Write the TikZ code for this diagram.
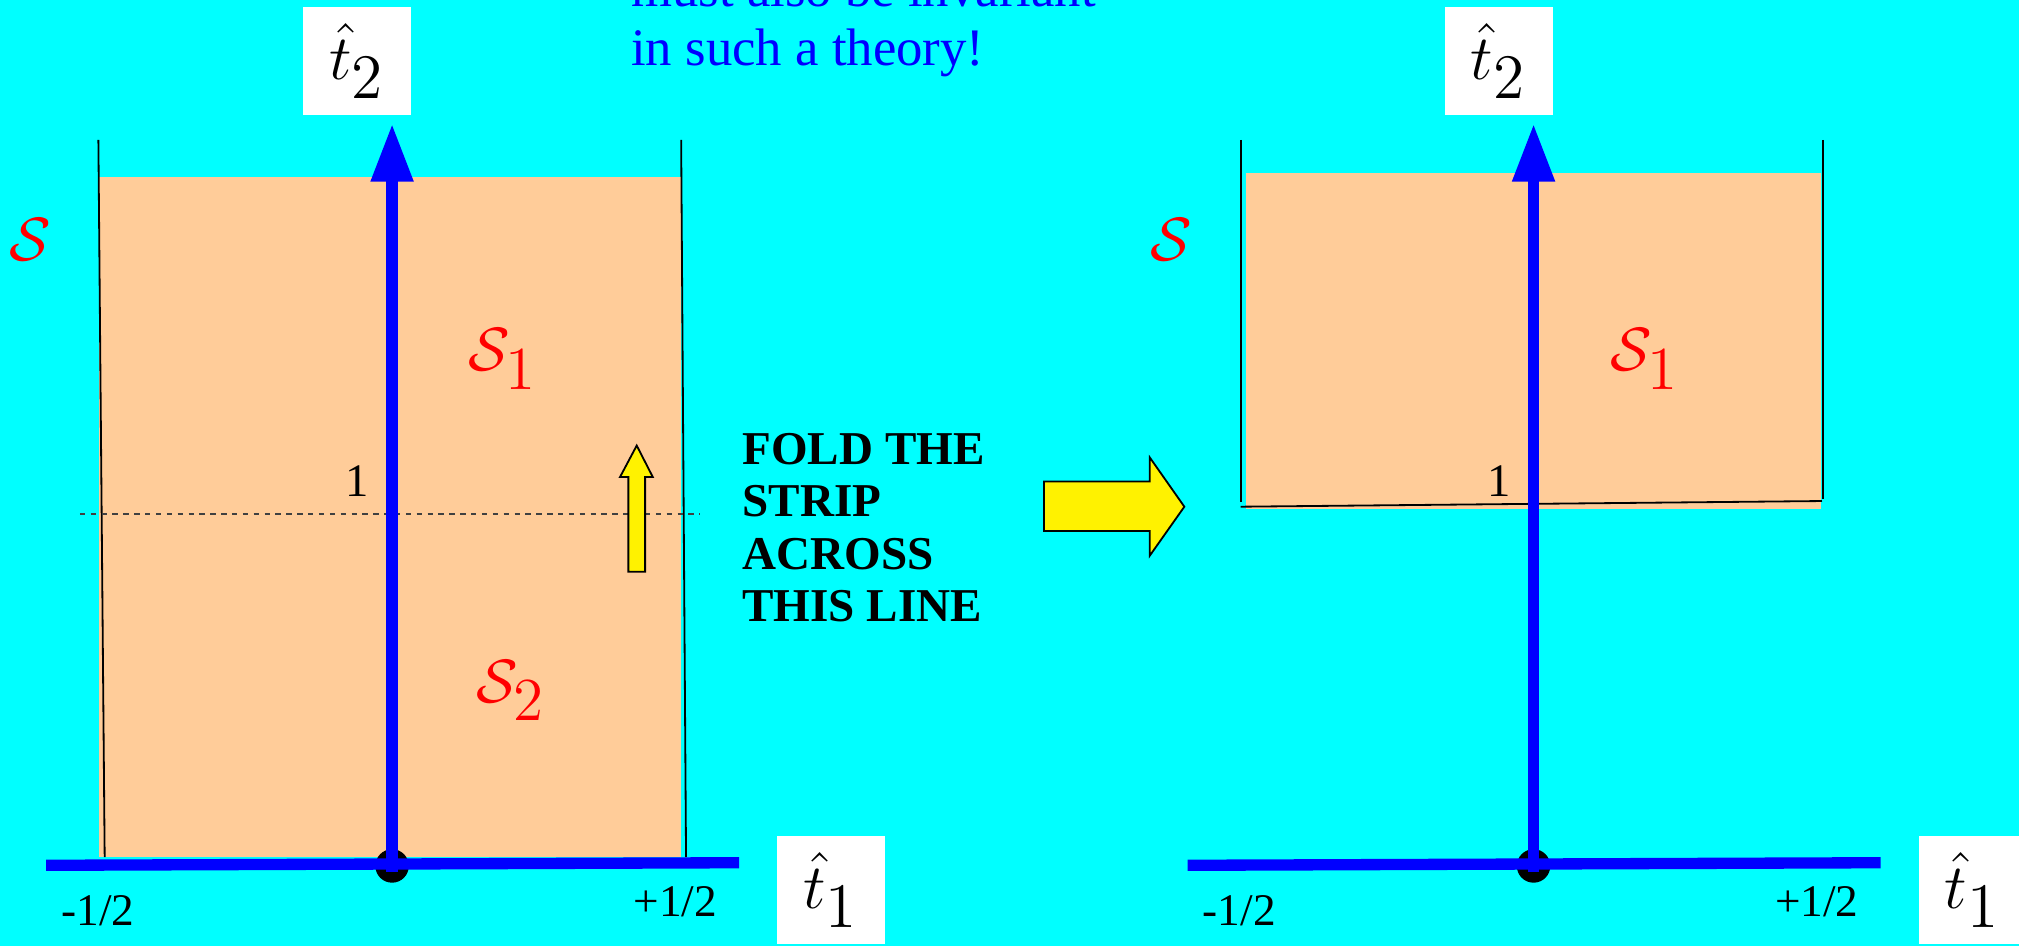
\documentclass[tikz,border=0pt]{standalone}
\usepackage{fix-cm}
\usepackage{fontspec}
\setmainfont{Liberation Serif}
\usepackage{tikz}
\usetikzlibrary{arrows.meta,positioning}
\definecolor{bgcyan}{HTML}{00FFFF}
\definecolor{strip}{HTML}{FFCC99}
\tikzset{
 axis/.style={blue,line width=2.5pt},
 edge/.style={line width=0.4pt},
 hatbox/.style={fill=white,minimum width=0.84cm,minimum height=0.84cm,inner sep=0pt,font=\fontsize{14}{16}\selectfont},
 region/.style={red,font=\fontsize{13.5}{15}\selectfont},
 tick/.style={font=\fontsize{10}{11}\selectfont},
 fatarrow/.style={fill=yellow,draw=black,line width=0.4pt},
}

\begin{document}
\begin{tikzpicture}[x=0.01cm,y=-0.01cm,>={Triangle[length=0.45cm,width=0.31cm]}]
\fill[bgcyan] (0,0) rectangle (1568,735);
\useasboundingbox (0,0) rectangle (1568,735);
\fill[strip] (77,137.5) rectangle (529,665.7);
\fill[strip] (967.7,134) rectangle (1413.9,395.5);
\draw[edge] (76.4,108.7) -- (81.3,665.7);
\draw[edge] (529,108.7) -- (532.8,665.7);
\draw[edge] (963.5,108.7) -- (963.5,389.6);
\draw[edge] (1415.7,108.7) -- (1415.7,387.6);
\draw[edge] (963.5,393.5) -- (1415,389.1);
\draw[edge,black!75,dash pattern=on 1.2pt off 1.2pt] (62,399) -- (544,399);
\foreach \dx/\p in {0/L,886.5/R}
 {\begin{scope}[shift={(\dx,0)}]
  \coordinate (O\p) at (304.5,672.5);
  \coordinate (foot\p) at (304.5,677);
  \coordinate (top\p) at (304.5,96);
  \coordinate (xl\p) at (35.8,672);
  \coordinate (xr\p) at (574,670);
  \fill (O\p) circle[radius=0.13cm];
  \draw[axis,->] (foot\p) -- (top\p);
  \draw[axis] (xl\p) -- (xr\p);
  \node[hatbox] (t2\p) at (277.5,47.5) {$\hat{t}_{\textstyle 2}$};
  \node[hatbox,anchor=north] (t1\p) at (645.5,648.5) {$\hat{t}_{\textstyle 1}$};
  \node[tick] (m\p) at (76,707) {-1/2};
  \node[tick] (p\p) at (524.5,700) {+1/2};
  \node[region] (S\p) at (23.5,186) {$\mathcal{S}$};
  \node[region] (Sa\p) at (391,279) {$\mathcal{S}_{\textstyle 1}$};
  \node[font=\fontsize{10.3}{11}\selectfont] (one\p) at (277.7,374) {1};
 \end{scope}}
\node[region] (SbL) at (397,536.5) {$\mathcal{S}_{\textstyle 2}$};
\draw[fatarrow] (488,444) -- (488,370.5) -- (481.5,370.5) -- (494.5,346) -- (507,370.5) -- (501,370.5) -- (501,444) -- cycle;
\draw[fatarrow] (810.8,374) -- (892.9,374) -- (892.9,355.2) -- (919.8,393.5) -- (892.9,431.6) -- (892.9,412.4) -- (810.8,412.4) -- cycle;
\node[anchor=base west,align=left,inner sep=0pt,blue,font=\fontsize{11.65}{13}\selectfont] (note) at (489.6,51) {must also be invariant\\in such a theory!};
\node[anchor=base west,align=left,inner sep=0pt,font=\bfseries\fontsize{10.4}{11.6}\selectfont] (fold) at (576,482.8) {FOLD THE\\STRIP\\ACROSS\\THIS LINE};
\end{tikzpicture}
\end{document}
